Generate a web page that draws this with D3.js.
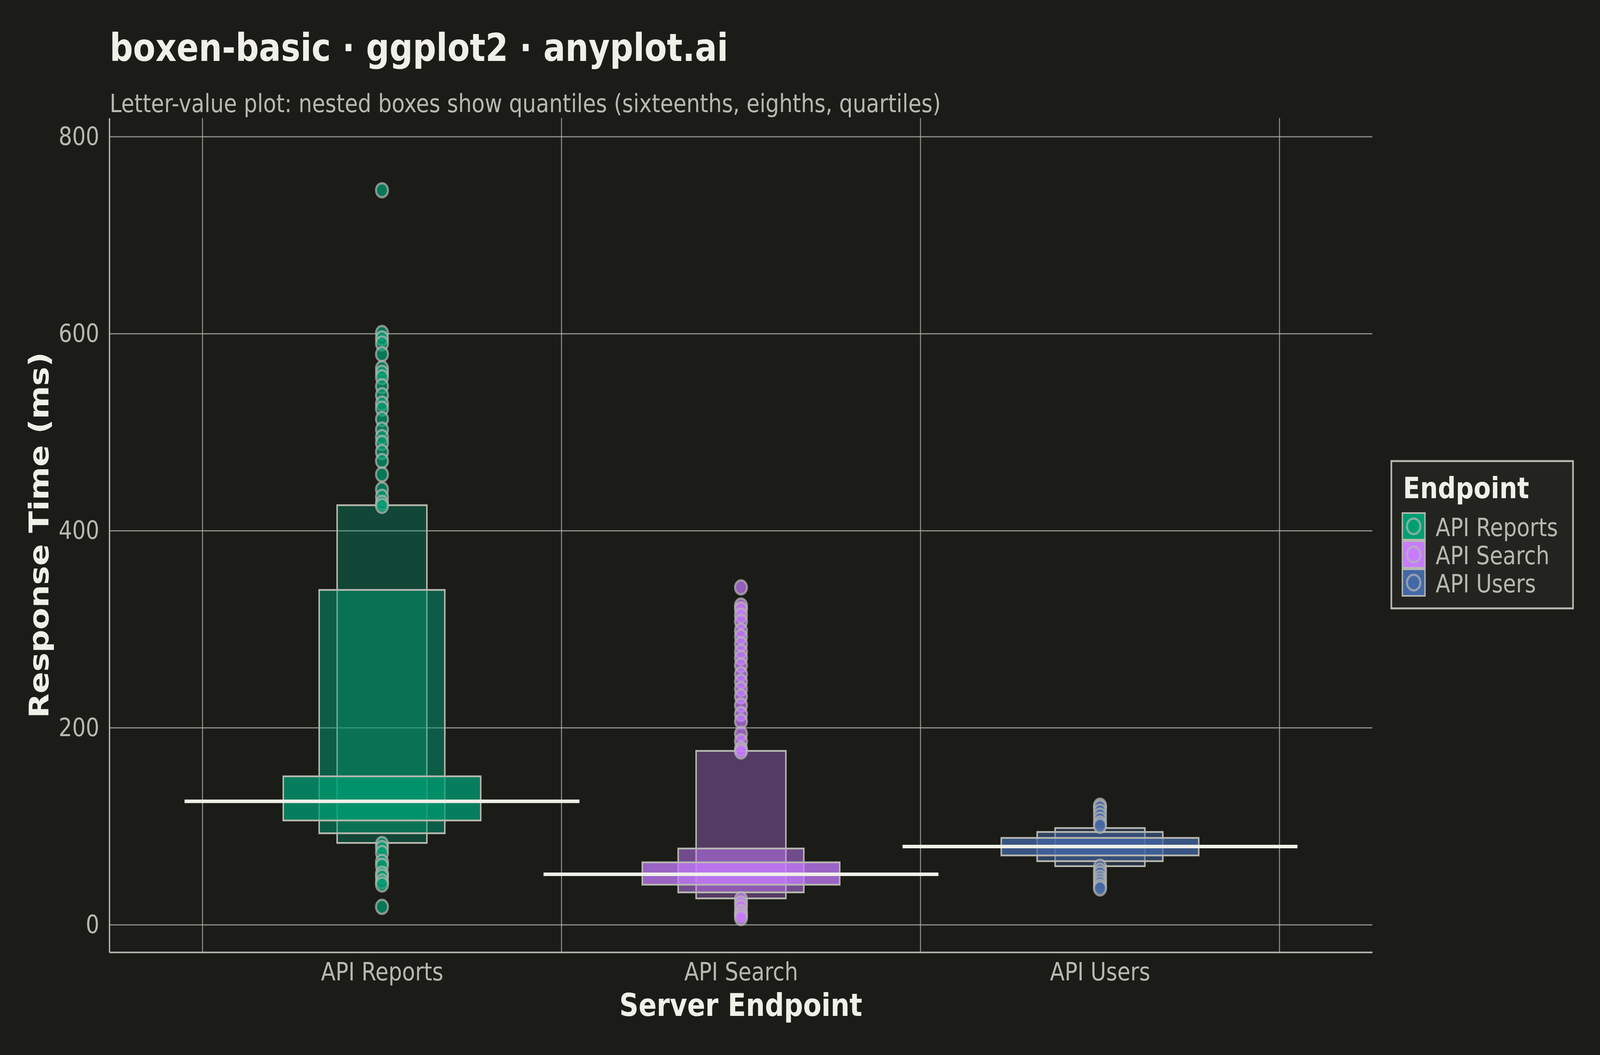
<!DOCTYPE html>
<html>
<head>
<meta charset="utf-8">
<script src="https://cdn.jsdelivr.net/npm/d3@7"></script>
<style>
  html, body { margin: 0; padding: 0; background: #1b1c18; overflow: hidden; }
  svg { display: block; width: 100vw; height: 100vh; }
  text { font-family: "DejaVu Sans", sans-serif; }
</style>
</head>
<body>
<svg id="chart" viewBox="0 0 4800 2700" preserveAspectRatio="none"></svg>
<script>
// values
var categories = ["API Reports", "API Search", "API Users"];
var colors = ["#009E73", "#C77CFF", "#4467A7"];
var medians = [125.4, 51.4, 79.5];

// letter values: [lower, upper] per category
var quartiles  = [[106, 150.8], [40.8, 63.5], [70.5, 88.3]];
var eighths    = [[93, 340],    [33, 77.5],   [64.7, 94.3]];
var sixteenths = [[83.2, 426],  [26.9, 176.6], [59.6, 98.3]];

var outliersReports = [745.7, 600.8, 595.3, 590.2, 579.3, 565, 560.4, 555.9, 546.8, 537.6,
                       529.1, 524, 513.4, 502.8, 495.2, 489.1, 480, 470.9, 457.2, 442,
                       434.5, 428.4, 425.3,
                       82, 78, 73, 64, 60, 52, 49, 44, 41, 18.3];
var outliersSearch  = [342.6, 324.1, 320.3, 314, 307.7, 298.8, 292.5, 284.9, 277.3, 271,
                       263.4, 254.5, 247, 239.4, 231.8, 222.9, 214.1, 206.5, 193.9, 186.3,
                       178.7, 176,
                       26, 22, 18, 13, 10, 7];
var outliersUsers   = [121, 119, 115, 111, 107, 103, 100.6,
                       59, 55, 52, 48, 45, 42, 39, 37];

var yTicks = [0, 200, 400, 600, 800];
var xGrid = [0.5, 1.5, 2.5, 3.5];

var BG = "#1b1c18";
var INK = "#f0efe8";
var SOFT = "#b8b8b0";

var svg = d3.select("#chart");
svg.append("rect").attr("width", 4800).attr("height", 2700).attr("fill", BG);

var pLeft = 328, pRight = 4117, pTop = 302, pBottom = 2437;

var x = d3.scaleLinear().domain([0.2405, 3.7586]).range([pLeft, pRight]);
var y = d3.scaleLinear().domain([-27.76, 819.04]).range([pBottom, pTop]);

// grid
var grid = svg.append("g");
grid.selectAll("line.h").data(yTicks).enter().append("line")
    .attr("x1", pLeft).attr("x2", pRight)
    .attr("y1", function(d) { return y(d); })
    .attr("y2", function(d) { return y(d); })
    .style("stroke", SOFT).style("stroke-opacity", 0.75).style("stroke-width", 3);
grid.selectAll("line.v").data(xGrid).enter().append("line")
    .attr("x1", function(d) { return x(d); })
    .attr("x2", function(d) { return x(d); })
    .attr("y1", pTop).attr("y2", pBottom)
    .style("stroke", SOFT).style("stroke-opacity", 0.75).style("stroke-width", 3);

// axes
var yAxis = svg.append("g")
    .attr("transform", "translate(" + pLeft + ",0)")
    .call(d3.axisLeft(y).tickValues(yTicks).tickSize(0).tickPadding(30));
var xAxis = svg.append("g")
    .attr("transform", "translate(0," + pBottom + ")")
    .call(d3.axisBottom(x).tickValues([1, 2, 3])
        .tickFormat(function(d) { return categories[d - 1]; })
        .tickSize(0).tickPadding(27));
[yAxis, xAxis].forEach(function(a) {
    a.select(".domain").style("stroke", SOFT).style("stroke-width", 4);
    a.selectAll("text").style("fill", SOFT).style("font-size", "64px")
        .style("font-family", "DejaVu Sans");
});

// boxes, widest level drawn last
var levels = [
    { vals: sixteenths, width: 0.25, alpha: 0.33 },
    { vals: eighths,    width: 0.35, alpha: 0.5 },
    { vals: quartiles,  width: 0.55, alpha: 0.75 }
];
var boxes = svg.append("g");
levels.forEach(function(lv) {
    boxes.selectAll(null).data(lv.vals).enter().append("rect")
        .attr("x", function(d, i) { return x(i + 1 - lv.width / 2); })
        .attr("width", function() { return x(1 + lv.width) - x(1); })
        .attr("y", function(d) { return y(d[1]); })
        .attr("height", function(d) { return y(d[0]) - y(d[1]); })
        .style("fill", function(d, i) { return colors[i]; })
        .style("fill-opacity", lv.alpha)
        .style("stroke", SOFT).style("stroke-width", 4.5);
});

// median lines
boxes.selectAll("line.med").data(medians).enter().append("line")
    .attr("x1", function(d, i) { return x(i + 1 - 0.55); })
    .attr("x2", function(d, i) { return x(i + 1 + 0.55); })
    .attr("y1", function(d) { return y(d); })
    .attr("y2", function(d) { return y(d); })
    .style("stroke", INK).style("stroke-width", 9);

// outliers
var outliers = [outliersReports, outliersSearch, outliersUsers];
var pts = svg.append("g");
outliers.forEach(function(list, i) {
    pts.selectAll(null).data(list).enter().append("circle")
        .attr("cx", x(i + 1))
        .attr("cy", function(d) { return y(d); })
        .attr("r", 18)
        .style("fill", colors[i]).style("fill-opacity", 0.7)
        .style("stroke", SOFT).style("stroke-opacity", 0.7).style("stroke-width", 6);
});

// titles
svg.append("text").attr("x", 329).attr("y", 156)
    .style("font-size", "98px").style("font-weight", "bold").style("fill", INK)
    .text("boxen-basic · ggplot2 · anyplot.ai");
svg.append("text").attr("x", 329).attr("y", 287)
    .style("font-size", "64px").style("fill", SOFT)
    .text("Letter-value plot: nested boxes show quantiles (sixteenths, eighths, quartiles)");
svg.append("text").attr("x", (pLeft + pRight) / 2).attr("y", 2600)
    .attr("text-anchor", "middle")
    .style("font-size", "80px").style("font-weight", "bold").style("fill", INK)
    .text("Server Endpoint");
svg.append("text")
    .attr("transform", "translate(145," + (pTop + pBottom) / 2 + ") rotate(-90)")
    .attr("text-anchor", "middle")
    .style("font-size", "82px").style("font-weight", "bold").style("fill", INK)
    .text("Response Time (ms)");

// legend
var lg = svg.append("g").attr("transform", "translate(4174,1180)");
lg.append("rect").attr("width", 545).attr("height", 377)
    .style("fill", "#232420").style("stroke", SOFT).style("stroke-width", 5);
lg.append("text").attr("x", 35).attr("y", 95)
    .style("font-size", "75px").style("font-weight", "bold").style("fill", INK)
    .text("Endpoint");
var keys = lg.selectAll("g.key").data(categories).enter().append("g")
    .attr("transform", function(d, i) { return "translate(33," + (133 + i * 72) + ")"; });
keys.append("rect").attr("width", 68).attr("height", 68)
    .style("fill", function(d, i) { return colors[i]; })
    .style("stroke", SOFT).style("stroke-width", 4);
keys.append("circle").attr("cx", 34).attr("cy", 34).attr("r", 20)
    .style("fill", function(d, i) { return colors[i]; })
    .style("stroke", SOFT).style("stroke-opacity", 0.7).style("stroke-width", 6);
keys.append("text").attr("x", 100).attr("y", 59)
    .style("font-size", "64px").style("fill", SOFT)
    .text(function(d) { return d; });
</script>
</body>
</html>
